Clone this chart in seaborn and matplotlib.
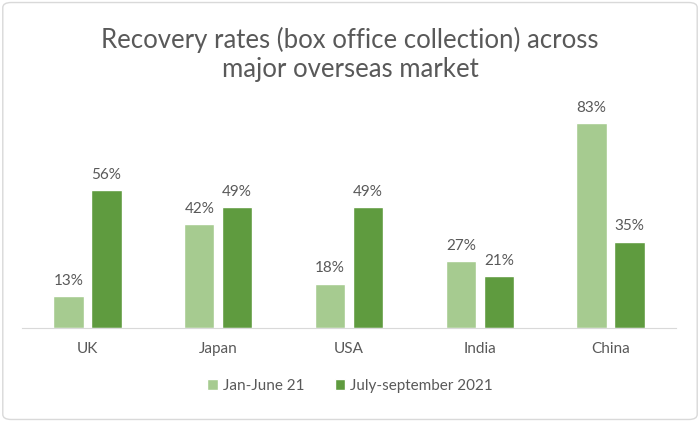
import pandas as pd
import seaborn as sns
import matplotlib.pyplot as plt
from matplotlib.patches import FancyBboxPatch

# data
markets = ["UK", "Japan", "USA", "India", "China"]
jan_june = [13, 42, 18, 27, 83]
jul_sep = [56, 49, 49, 21, 35]
series = ["Jan-June 21", "July-september 2021"]

data = pd.DataFrame({
    "market": markets * 2,
    "period": [series[0]] * len(markets) + [series[1]] * len(markets),
    "rate": jan_june + jul_sep,
})

sns.set_style("white")
plt.rcParams["font.family"] = ["Lato", "DejaVu Sans"]
grey = "#595959"

fig = plt.figure(figsize=(7, 4.22), dpi=100)
ax = fig.add_axes([22 / 700, 1 - 328 / 422, 654 / 700, 222 / 422])

sns.barplot(data=data, x="market", y="rate", hue="period",
            palette=["#A6CB90", "#5F9B3F"], width=0.58, gap=0.2,
            saturation=1, ax=ax)

ax.set_ylim(0, 90)
ax.set_xlim(-0.5, 4.5)
ax.set_xlabel("")
ax.set_ylabel("")
ax.set_yticks([])
for s in ["top", "right", "left"]:
    ax.spines[s].set_visible(False)
ax.spines["bottom"].set_color("#D9D9D9")
ax.tick_params(axis="x", length=0, labelsize=11, labelcolor=grey, pad=10)

for cont in ax.containers:
    ax.bar_label(cont, labels=[f"{int(v)}%" for v in cont.datavalues],
                 padding=6, fontsize=11, color=grey)

ax.legend_.remove()
handles, labels = ax.get_legend_handles_labels()
fig.legend(handles, labels, loc="center", bbox_to_anchor=(0.5, 1 - 386 / 422),
           ncol=2, frameon=False, fontsize=11, labelcolor=grey,
           handlelength=0.7, handleheight=0.7, handletextpad=0.3,
           columnspacing=2.0)

fig.text(0.5, 1 - 54 / 422,
         "Recovery rates (box office collection) across\nmajor overseas market",
         ha="center", va="center", fontsize=18.5, color=grey, linespacing=1.2)

fig.patches.append(FancyBboxPatch((0.004, 0.006), 0.992, 0.988,
                                  boxstyle="round,pad=0,rounding_size=0.012",
                                  transform=fig.transFigure, fill=False,
                                  edgecolor="#D9D9D9", linewidth=1))

fig.savefig("out.png", dpi=100)
